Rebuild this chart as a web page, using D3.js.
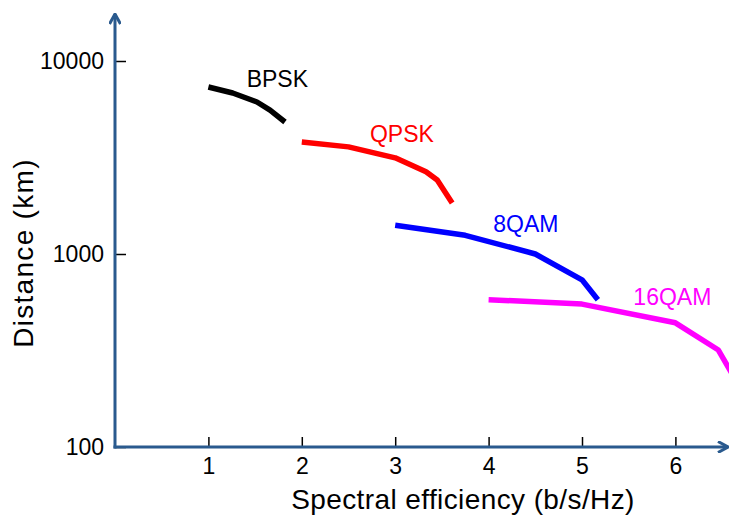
<!DOCTYPE html>
<html><head><meta charset="utf-8">
<script src="https://cdn.jsdelivr.net/npm/d3@7"></script>
<style>
html,body{margin:0;padding:0;background:#fff;}
svg{display:block;font-family:Arial,"Liberation Sans",sans-serif;}
</style></head>
<body><svg id="c" width="729" height="518"></svg>
<script>
const xTicks = [1, 2, 3, 4, 5, 6];
const yTicks = [100, 1000, 10000];

const seriesNames = ["BPSK", "QPSK", "8QAM", "16QAM"];
const seriesColors = ["#000000", "#ff0000", "#0000ff", "#ff00ff"];

const bpskX = [1.0, 1.26, 1.52, 1.66, 1.82];
const bpskY = [7330, 6830, 6130, 5570, 4830];
const qpskX = [2.0, 2.5, 3.0, 3.33, 3.45, 3.61];
const qpskY = [3800, 3590, 3150, 2670, 2420, 1840];
const qam8X = [3.0, 3.75, 4.5, 5.0, 5.17];
const qam8Y = [1410, 1250, 1000, 735, 580];
const qam16X = [4.0, 5.0, 6.0, 6.46, 6.65];
const qam16Y = [580, 550, 440, 318, 220];

const labelX = [1.41, 2.73, 4.05, 5.55];
const labelY = [7300, 3820, 1300, 545];

const seriesX = [bpskX, qpskX, qam8X, qam16X];
const seriesY = [bpskY, qpskY, qam8Y, qam16Y];

const svg = d3.select("#c");
const axisColor = "#2a5a8e";

const x = d3.scaleLinear().domain([0, 6]).range([115, 675.4]);
const y = d3.scaleLog().domain([100, 10000]).range([447, 61]);

// markers
const defs = svg.append("defs");
defs.append("marker").attr("id", "arr").attr("viewBox", "0 0 12 12")
  .attr("refX", 11).attr("refY", 6).attr("markerWidth", 12).attr("markerHeight", 12)
  .attr("markerUnits", "userSpaceOnUse").attr("orient", "auto")
  .append("path").attr("d", "M1,0.5 L11,6 L1,11.5")
  .attr("fill", "none").attr("stroke", axisColor).attr("stroke-width", 3)
  .attr("stroke-linejoin", "miter");

// data lines
const line = d3.line().x(d => x(d[0])).y(d => y(d[1]));
seriesNames.forEach((name, i) => {
  const pts = seriesX[i].map((v, j) => [v, seriesY[i][j]]);
  svg.append("path").datum(pts).attr("d", line)
    .attr("fill", "none").attr("stroke", seriesColors[i])
    .attr("stroke-width", 5.5).attr("stroke-linejoin", "round");
  svg.append("text").attr("x", x(labelX[i])).attr("y", y(labelY[i]))
    .attr("fill", seriesColors[i]).attr("font-size", 23).text(name);
});

// axes
const yAxis = d3.axisLeft(y).tickValues(yTicks).tickFormat(d3.format("d"))
  .tickSize(-11).tickPadding(11);
const gy = svg.append("g").attr("transform", "translate(115,0)").call(yAxis);
const xAxis = d3.axisBottom(x).tickValues(xTicks).tickFormat(d3.format("d"))
  .tickSize(-10).tickPadding(11);
const gx = svg.append("g").attr("transform", "translate(0,447)").call(xAxis);
[gx, gy].forEach(g => {
  g.select(".domain").remove();
  g.selectAll(".tick line").attr("stroke", "#000").attr("stroke-width", 1.5);
  g.selectAll(".tick text").attr("font-size", 23).attr("fill", "#000")
    .attr("font-family", "Arial, 'Liberation Sans', sans-serif");
});

// axis lines with arrows
svg.append("line").attr("x1", 115).attr("y1", 448.5).attr("x2", 115).attr("y2", 14)
  .attr("stroke", axisColor).attr("stroke-width", 3).attr("marker-end", "url(#arr)");
svg.append("line").attr("x1", 113.5).attr("y1", 447).attr("x2", 728).attr("y2", 447)
  .attr("stroke", axisColor).attr("stroke-width", 3).attr("marker-end", "url(#arr)");

// titles
svg.append("text").attr("x", 463).attr("y", 509).attr("text-anchor", "middle")
  .attr("font-size", 28).attr("letter-spacing", 0.4).text("Spectral efficiency (b/s/Hz)");
svg.append("text").attr("transform", "translate(33,253) rotate(-90)")
  .attr("text-anchor", "middle").attr("font-size", 28).attr("letter-spacing", 1.3)
  .text("Distance (km)");
</script></body></html>
